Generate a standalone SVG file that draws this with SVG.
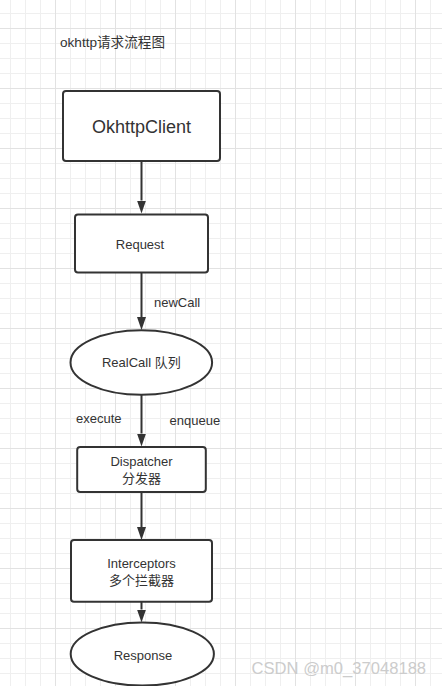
<svg xmlns="http://www.w3.org/2000/svg" width="442" height="686" viewBox="0 0 442 686">
  <defs>
    <pattern id="minor" patternUnits="userSpaceOnUse" x="10" y="13" width="15" height="15">
      <path d="M0.5 0 V15 M0 0.5 H15" fill="none" stroke="#efefef" stroke-width="1"/>
    </pattern>
    <pattern id="major" patternUnits="userSpaceOnUse" x="55" y="28" width="60" height="60">
      <path d="M0.5 0 V60 M0 0.5 H60" fill="none" stroke="#e2e2e2" stroke-width="1"/>
    </pattern>
    <marker id="arrow" markerUnits="userSpaceOnUse" markerWidth="13" markerHeight="10" refX="0" refY="5" orient="auto" viewBox="0 0 13 10">
      <path d="M0 0.5 L13 5 L0 9.5 Z" fill="#333333"/>
    </marker>
  </defs>
  <style>
    .node { fill: #ffffff; stroke: #333333; stroke-width: 2; }
    .lbl { font-family: "Liberation Sans", "Noto Sans CJK SC", sans-serif; fill: #333333; font-size: 13px; }
    .ctr { text-anchor: middle; }
    .edge { stroke: #333333; stroke-width: 2; fill: none; marker-end: url(#arrow); }
  </style>
  <rect x="0" y="0" width="442" height="686" fill="#ffffff"/>
  <rect x="0" y="0" width="442" height="686" fill="url(#minor)"/>
  <rect x="0" y="0" width="442" height="686" fill="url(#major)"/>

  <g id="title">
    <text class="lbl" x="60" y="47" style="font-size:13.6px">okhttp请求流程图</text>
  </g>

  <g id="connectors">
    <line class="edge" x1="141.5" y1="161" x2="141.5" y2="200.5"/>
    <line class="edge" x1="141.5" y1="273" x2="141.5" y2="317"/>
    <line class="edge" x1="141.5" y1="395" x2="141.5" y2="433.5"/>
    <line class="edge" x1="141.5" y1="492" x2="141.5" y2="527"/>
    <line class="edge" x1="141.5" y1="602" x2="141.5" y2="609.5"/>
    <text class="lbl" x="154" y="306.5">newCall</text>
    <text class="lbl" x="76" y="422.5">execute</text>
    <text class="lbl" x="169.5" y="424.5">enqueue</text>
  </g>

  <g id="okhttpclient">
    <rect class="node" x="63" y="91" width="157" height="70" rx="3"/>
    <text class="lbl ctr" x="141.5" y="132.5" style="font-size:18px">OkhttpClient</text>
  </g>

  <g id="request">
    <rect class="node" x="75" y="214.5" width="133" height="58" rx="3"/>
    <text class="lbl ctr" x="140" y="249">Request</text>
  </g>

  <g id="realcall">
    <ellipse class="node" cx="141.3" cy="362.5" rx="70.8" ry="32.3"/>
    <text class="lbl ctr" x="141.3" y="367.3">RealCall 队列</text>
  </g>

  <g id="dispatcher">
    <rect class="node" x="77.2" y="447" width="128.6" height="45" rx="3"/>
    <text class="lbl ctr" x="141.5" y="466">Dispatcher</text>
    <text class="lbl ctr" x="141.5" y="482.5">分发器</text>
  </g>

  <g id="interceptors">
    <rect class="node" x="71" y="540" width="141" height="61.7" rx="3"/>
    <text class="lbl ctr" x="141.5" y="568.3">Interceptors</text>
    <text class="lbl ctr" x="141.5" y="584.5">多个拦截器</text>
  </g>

  <g id="response">
    <ellipse class="node" cx="142.3" cy="654" rx="71.6" ry="31.6"/>
    <text class="lbl ctr" x="143" y="660">Response</text>
  </g>

  <g id="watermark">
    <text x="251.5" y="673.5" style="font-family:'Liberation Sans','Noto Sans CJK SC',sans-serif;font-size:16.6px;fill:#cccccc">CSDN @m0_37048188</text>
  </g>
</svg>
